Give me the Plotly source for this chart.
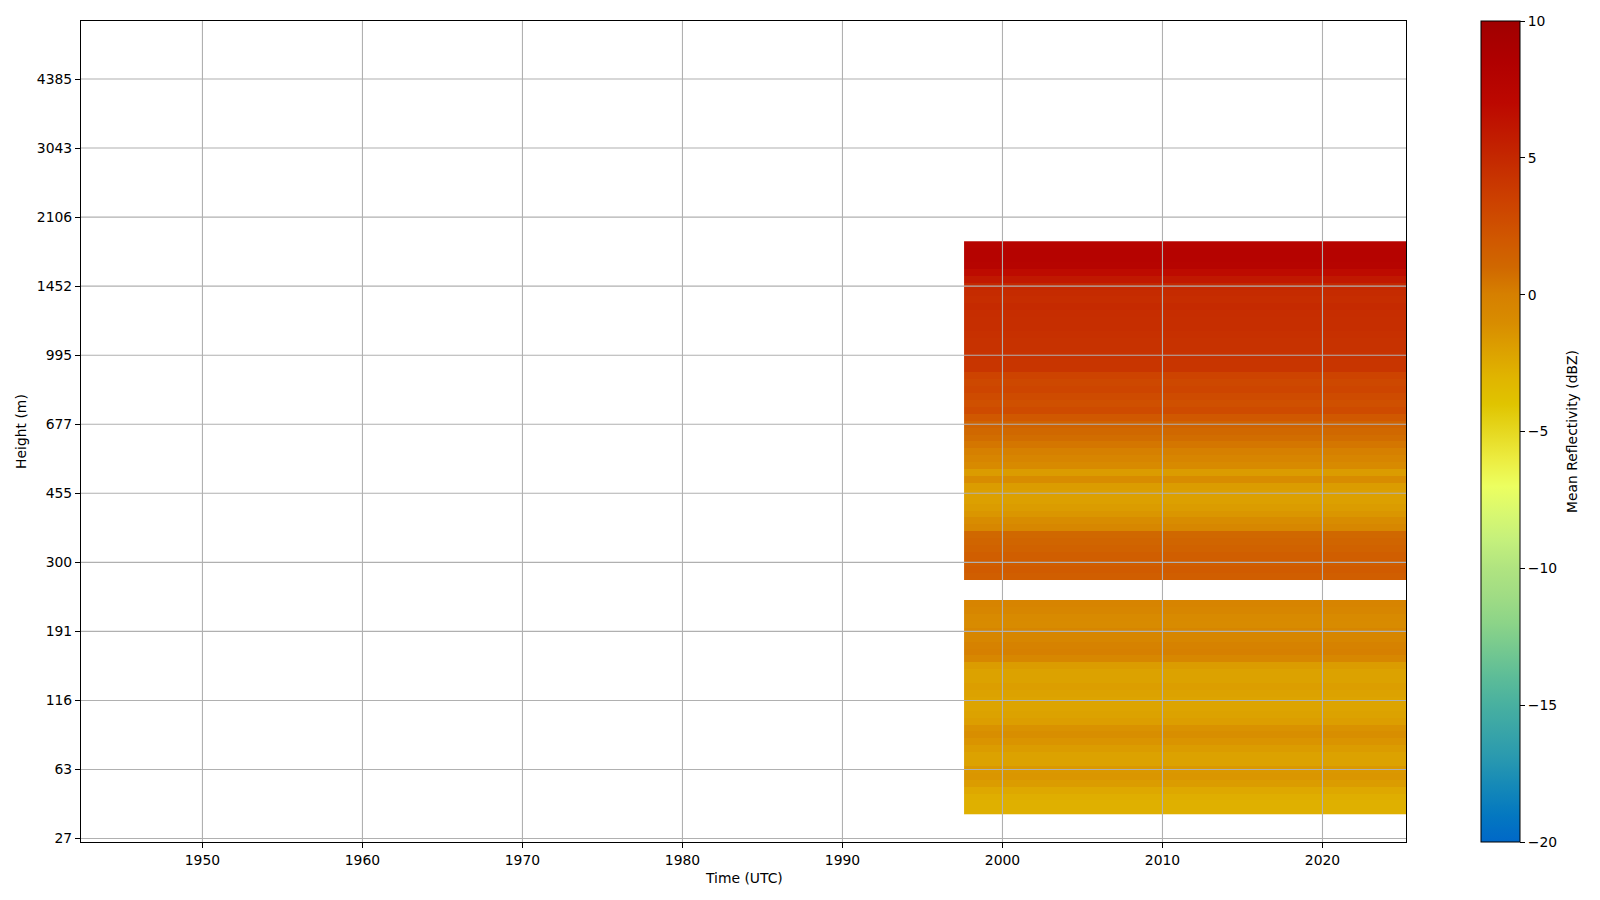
import numpy as np
import plotly.graph_objects as go

# ---------------- data ----------------
tick_index = [0, 10, 20, 30, 40, 50, 60, 70, 80, 90, 100, 110]
tick_height_m = [27, 63, 116, 191, 300, 455, 677, 995, 1452, 2106, 3043, 4385]
year_ticks = [1950, 1960, 1970, 1980, 1990, 2000, 2010, 2020]
cbar_ticks = [-20, -15, -10, -5, 0, 5, 10]

time_start = 1997.6
time_end = 2025.22
x_range = [1942.41, 2025.22]
y_range = [-0.5, 118.4]

lower_first_bin = 4
lower_dbz = [-2.8, -2.8, -2.7, -2.4, -1.8, -1.5, -1.6, -2.1, -2.1, -1.8,
             -1.4, -1.1, -1.3, -1.9, -2.1, -2.2, -2.2, -2.1, -1.9, -2.1,
             -2.1, -1.8, -0.6, 0.0, -0.2, -0.5, -0.5, -0.9, -0.8, -0.5, -0.3]

upper_first_bin = 38
upper_dbz = [1.6, 1.8, 1.6, 1.6, 1.4, 1.2, 1.0, -0.6, -1.0, -1.5,
             -1.8, -2.0, -2.0, -1.8, -1.0, -1.8, -0.8, -0.4, 0.0, 0.4,
             0.8, 1.0, 1.3, 2.0, 2.8, 2.5, 2.8, 3.2, 3.0, 3.3,
             4.2, 4.2, 4.3, 4.4, 4.4, 4.5, 4.6, 4.6, 4.7, 4.9,
             4.7, 4.8, 5.0, 6.0, 6.8, 7.8, 7.9, 7.9, 7.8]

zmin, zmax = -20, 10

# ---------------- colour scale ----------------
cmap_pts = [(-20, "#0068c8"), (-19, "#0478c0"), (-18, "#1488b8"), (-17, "#2898b0"),
            (-16, "#38a4a8"), (-15, "#48b0a0"), (-14, "#5cbc98"), (-13, "#74c890"),
            (-12, "#8cd488"), (-11, "#a0dc84"), (-10, "#b0e480"), (-9, "#c4f07c"),
            (-8, "#d8f870"), (-7, "#ecff60"), (-6, "#ecec40"), (-5, "#e6d820"),
            (-4, "#e0c400"), (-3, "#e0b400"), (-2, "#dca000"), (-1, "#d88c00"),
            (0, "#d68000"), (1, "#d06800"), (2, "#d05800"), (3.5, "#cc4000"),
            (5, "#c42800"), (7, "#bc0800"), (8.5, "#b00000"), (10, "#a00000")]
colorscale = [[(v - zmin) / (zmax - zmin), c] for v, c in cmap_pts]

# ---------------- build grid ----------------
last_bin = upper_first_bin + len(upper_dbz) - 1
bins = np.arange(lower_first_bin, last_bin + 1)
col = np.full(len(bins), np.nan)
for i, v in enumerate(lower_dbz):
    col[i] = v
for i, v in enumerate(upper_dbz):
    col[upper_first_bin + i - lower_first_bin] = v
z = col.reshape(-1, 1)

FONT = "DejaVu Sans"
FS = 13.9

# page body has an 8px margin: shrink the figure and shift margins accordingly
W, H = 1592, 892
ML, MT = 73, 13
PW, PH = 1325, 821
MR, MB = W - ML - PW, H - MT - PH
SX, SY = 81, 21  # on-screen position of plot-area left/top

fig = go.Figure()
fig.add_trace(go.Heatmap(
    z=z, x=[time_start, time_end], y=bins,
    zmin=zmin, zmax=zmax, colorscale=colorscale,
    hoverongaps=False,
    colorbar=dict(
        x=(1481 - SX) / PW, xanchor="left", xpad=0,
        y=0.5, yanchor="middle", ypad=0,
        len=1, lenmode="fraction", thickness=39, thicknessmode="pixels",
        outlinewidth=1, outlinecolor="black",
        tickmode="array", tickvals=cbar_ticks,
        ticks="outside", ticklen=5, tickwidth=1, tickcolor="black",
        tickfont=dict(family=FONT, size=FS, color="black"),
    ),
))

grid_style = dict(color="#b0b0b0", width=1.1)
for yr in year_ticks:
    fig.add_shape(type="line", xref="x", yref="paper", x0=yr, x1=yr, y0=0, y1=1,
                  line=grid_style, layer="above")
for idx in tick_index:
    fig.add_shape(type="line", xref="paper", yref="y", x0=0, x1=1, y0=idx, y1=idx,
                  line=grid_style, layer="above")

fig.update_layout(
    width=W, height=H,
    margin=dict(l=ML, r=MR, t=MT, b=MB, pad=0),
    paper_bgcolor="white", plot_bgcolor="white",
    font=dict(family=FONT, size=FS, color="black"),
    showlegend=False,
    xaxis=dict(
        range=x_range, tickmode="array", tickvals=year_ticks,
        ticktext=[str(t) for t in year_ticks],
        showgrid=False, zeroline=False,
        showline=True, mirror=True, linecolor="black", linewidth=1.1,
        ticks="outside", ticklen=5, tickwidth=1.1, tickcolor="black",
        layer="above traces",
    ),
    yaxis=dict(
        range=y_range, tickmode="array", tickvals=tick_index,
        ticktext=[str(h) for h in tick_height_m],
        showgrid=False, zeroline=False,
        showline=True, mirror=True, linecolor="black", linewidth=1.1,
        ticks="outside", ticklen=5, tickwidth=1.1, tickcolor="black",
        layer="above traces",
    ),
    annotations=[
        dict(text="Time (UTC)", xref="paper", yref="paper", x=0.5,
             y=(SY + PH - 877.5) / PH, xanchor="center", yanchor="middle",
             showarrow=False, font=dict(family=FONT, size=FS)),
        dict(text="Height (m)", xref="paper", yref="paper", x=(20.4 - SX) / PW,
             y=0.5, xanchor="center", yanchor="middle", textangle=-90,
             showarrow=False, font=dict(family=FONT, size=FS)),
        dict(text="Mean Reflectivity (dBZ)", xref="paper", yref="paper",
             x=(1571.5 - SX) / PW, y=0.5, xanchor="center", yanchor="middle",
             textangle=-90, showarrow=False, font=dict(family=FONT, size=FS)),
    ],
)

fig.write_html("out.html")
